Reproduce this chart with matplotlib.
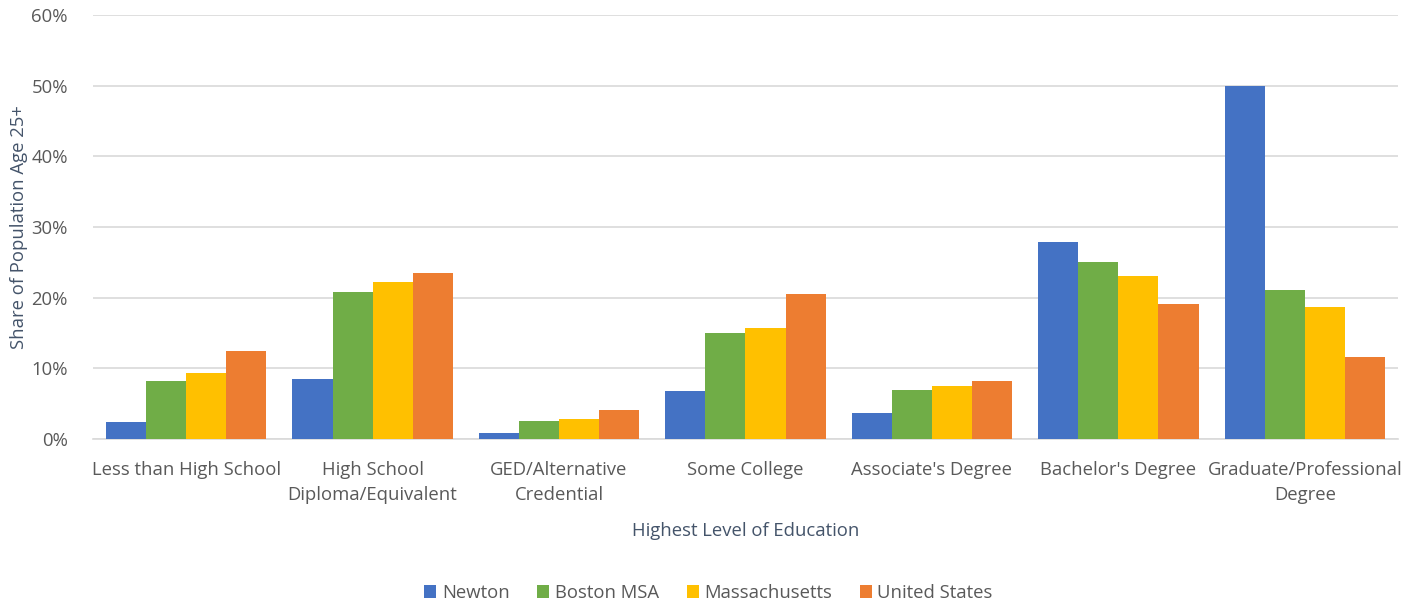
import matplotlib.pyplot as plt
import numpy as np

# -------- DATA --------
categories = ["Less than High School", "High School\nDiploma/Equivalent",
              "GED/Alternative\nCredential", "Some College", "Associate's Degree",
              "Bachelor's Degree", "Graduate/Professional\nDegree"]
newton = [2.4, 8.5, 0.8, 6.8, 3.7, 27.9, 49.9]
boston_msa = [8.2, 20.8, 2.5, 15.0, 6.9, 25.0, 21.1]
massachusetts = [9.3, 22.2, 2.8, 15.7, 7.5, 23.1, 18.7]
united_states = [12.4, 23.5, 4.1, 20.5, 8.2, 19.1, 11.6]
series_names = ["Newton", "Boston MSA", "Massachusetts", "United States"]
colors = ["#4472C4", "#70AD47", "#FFC000", "#ED7D31"]

plt.rcParams['font.family'] = ['Open Sans', 'DejaVu Sans']
text_col = "#595959"
title_col = "#44546A"
fs = 13.3

# -------- PLOT --------
fig = plt.figure(figsize=(14.17, 6.07), dpi=100)
ax = fig.add_axes([0.0656, 0.2768, 0.921, 0.6985])

x = np.arange(len(categories))
w = 0.215
for i, (vals, name) in enumerate(zip([newton, boston_msa, massachusetts, united_states], series_names)):
    ax.bar(x + (i - 1.5) * w, vals, width=w, color=colors[i], label=name, zorder=3)

ax.set_xlim(-0.5, len(categories) - 0.5)
ax.set_ylim(0, 60)
ax.set_yticks(range(0, 61, 10))
ax.set_yticklabels([f"{v}%" for v in range(0, 61, 10)])
ax.grid(axis="y", color="#D9D9D9", linewidth=1.2, zorder=0)
for s in ["top", "right", "left"]:
    ax.spines[s].set_visible(False)
ax.spines["bottom"].set_color("#D9D9D9")
ax.spines["bottom"].set_linewidth(1.2)
ax.tick_params(axis="both", length=0, labelsize=fs, colors=text_col)
ax.tick_params(axis="y", pad=18)
ax.tick_params(axis="x", pad=16)
ax.set_xticks(x)
ax.set_xticklabels(categories, linespacing=1.5)

ax.set_xlabel("Highest Level of Education", fontsize=fs, color=title_col, labelpad=13)
ax.set_ylabel("Share of Population Age 25+", fontsize=fs, color=title_col)
ax.yaxis.set_label_coords(-0.050, 0.5)

fig.legend(loc="center", bbox_to_anchor=(0.5, 0.023), ncol=4, frameon=False,
           fontsize=fs, labelcolor=text_col, handlelength=0.65, handleheight=0.65,
           handletextpad=0.3, columnspacing=1.5)

fig.savefig("out.png", dpi=100)
